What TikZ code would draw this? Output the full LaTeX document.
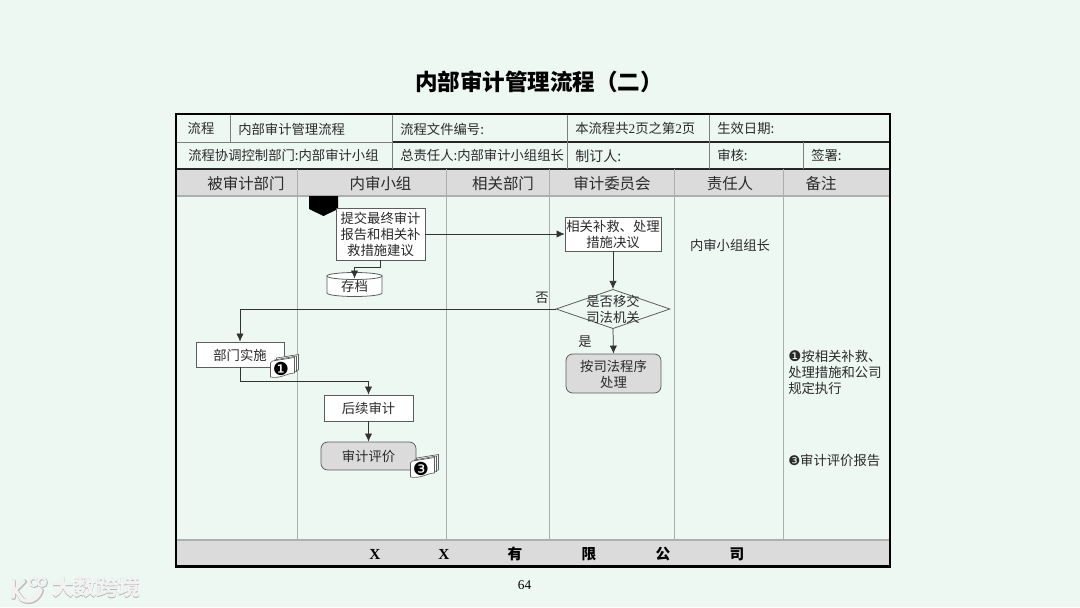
\documentclass[tikz,border=0pt]{standalone}
\usepackage{fontspec}
\setmainfont{Liberation Serif}
\newfontfamily\cjk{Noto Sans CJK SC}
\newfontfamily\dingb{DejaVu Sans}
\usetikzlibrary{shapes.geometric,arrows.meta,calc}
\definecolor{bgc}{HTML}{EDF8F3}
\definecolor{bandc}{HTML}{DBDBDB}
\definecolor{lanec}{HTML}{A9B0AD}
\definecolor{edgec}{HTML}{5A5F5D}
\definecolor{inkc}{HTML}{2A2A2A}
\tikzset{
  txt/.style={inner sep=0pt,text depth=0pt,text=inkc,align=center,font=\fontsize{10}{12}\selectfont\cjk},
  lefttxt/.style={txt,anchor=west,align=left},
  headtxt/.style={inner sep=0pt,text depth=0pt,text=inkc,font=\fontsize{11.6}{14}\selectfont\cjk},
  foottxt/.style={inner sep=0pt,text=black,font=\fontsize{11}{14}\selectfont\cjk\bfseries},
  footlat/.style={inner sep=0pt,text=black,font=\fontsize{11.5}{14}\selectfont\bfseries},
  procbox/.style={draw=edgec,line width=.6pt,fill=white,txt},
  endbox/.style={draw=edgec,line width=.6pt,fill=bandc,rounded corners=5pt,txt},
  decis/.style={draw=edgec,line width=.6pt,fill=bgc,diamond,aspect=2.9,inner sep=0pt,txt},
  conn/.style={draw=black!80,line width=.55pt,-{Latex[length=6pt,width=5.5pt]}},
  lane/.style={draw=lanec,line width=.7pt},
  cellline/.style={draw=edgec!80,line width=.6pt},
  darkline/.style={draw=black!85,line width=.8pt},
  page/.style={draw=edgec,line width=.5pt,fill=white}
}
\newcommand{\docstack}[3]{%
  \begin{scope}[shift={(#1,#2)}]
    \draw[page] (6,0) -- (28,-3.5) -- (28,12) -- (6,15) -- cycle;
    \draw[page] (4,2) -- (26,-2) -- (26,13.5) -- (4,16.5) -- cycle;
    \draw[page] (2,3) -- (24,-.5) -- (24,15) .. controls (17,15) and (10,21) .. (0,19) -- (0,5) -- cycle;
    \node[inner sep=0pt,text=black,font=\fontsize{13.5}{14}\selectfont\dingb] at (10.5,10.5) {#3};
  \end{scope}}
\begin{document}
\begin{tikzpicture}[x=.75pt,y=-.75pt]
\useasboundingbox (0,0) rectangle (1080,607);
\fill[bgc] (0,0) rectangle (1080,607);

% title
\node[inner sep=0pt,text=black,font=\fontsize{16.9}{20}\selectfont\cjk\bfseries] (title) at (539,81.5) {内部审计管理流程（二）};
\node[inner sep=0pt,text=black,font=\fontsize{10}{12}\selectfont] (pageno) at (524.5,585) {64};

% bands
\fill[bandc] (176,169) rectangle (890,196);
\fill[bandc] (176,540) rectangle (890,566);

% table rules
\draw[cellline] (176,142) -- (392,142);
\draw[darkline] (392,142) -- (890,142);
\draw[darkline] (176,169) -- (890,169);
\draw[lane,line width=1.1pt] (176,196) -- (890,196);
\draw[lane,line width=1.2pt] (176,540) -- (890,540);
\foreach \x in {230,709}{\draw[cellline] (\x,114) -- (\x,142);}
\draw[cellline] (709,142) -- (709,169);
\draw[cellline] (803,142) -- (803,169);
\draw[cellline] (392,114) -- (392,169);
\draw[cellline] (567,114) -- (567,169);
\foreach \x in {297,446,549,674,783}{\draw[lane] (\x,169) -- (\x,540);}
\draw[black,line width=2pt] (176,114) rectangle (890,566.5);

% table text
\node[txt] (c1) at (201,128) {流程};
\node[lefttxt] (c2) at (238,128.5) {内部审计管理流程};
\node[lefttxt] (c3) at (400,128.5) {流程文件编号:};
\node[lefttxt] (c4) at (575,127.5) {本流程共{\fontspec{Liberation Serif}2}页之第{\fontspec{Liberation Serif}2}页};
\node[lefttxt] (c5) at (717,128) {生效日期:};
\node[lefttxt] (c6) at (188,155) {流程协调控制部门:内部审计小组};
\node[lefttxt] (c7) at (400,155) {总责任人:内部审计小组组长};
\node[lefttxt,font=\fontsize{10.5}{12}\selectfont\cjk] (c8) at (575,156) {制订人:};
\node[lefttxt] (c9) at (717,155) {审核:};
\node[lefttxt] (c10) at (811,155) {签署:};

% lane heads
\node[headtxt] (h1) at (246,183) {被审计部门};
\node[headtxt] (h2) at (380.5,183) {内审小组};
\node[headtxt] (h3) at (503,183) {相关部门};
\node[headtxt] (h4) at (612,183) {审计委员会};
\node[headtxt] (h5) at (730,183) {责任人};
\node[headtxt] (h6) at (821,183) {备注};

% footer
\node[footlat] (f1) at (375,554) {X};
\node[footlat] (f2) at (444,554) {X};
\node[foottxt] (f3) at (515,554) {有};
\node[foottxt] (f4) at (589,554) {限};
\node[foottxt] (f5) at (663,554) {公};
\node[foottxt] (f6) at (737,554) {司};

% off-page marker
\fill[black] (309,196) -- (338,196) -- (338,209) -- (323.5,216) -- (309,209) -- cycle;

% flow nodes
\node[procbox,minimum width=66.75pt,minimum height=39pt] (submit) at (380.5,234) {提交最终审计\\报告和相关补\\救措施建议};
\node[procbox,minimum width=72pt,minimum height=25.5pt,inner xsep=0pt] (resolve) at (613,234) {相关补救、处理\\措施决议};
\node[decis,minimum width=85.5pt,minimum height=29.5pt] (legal) at (613,309) {};
\node[txt] (legalt) at (613,309) {是否移交\\司法机关};
\node[endbox,minimum width=71.25pt,minimum height=29.25pt] (judicial) at (613.5,373.5) {按司法程序\\处理};
\node[procbox,minimum width=66pt,minimum height=18.75pt] (dept) at (240,354.5) {部门实施};
\node[procbox,minimum width=66.75pt,minimum height=19.5pt] (follow) at (368.5,408) {后续审计};
\node[endbox,minimum width=71.25pt,minimum height=21pt] (evalu) at (368.5,456) {审计评价};

% archive: a plain named node with the can drawn round it
\draw[draw=edgec,line width=.6pt,fill=white]
  (327,276) -- (327,293) arc[start angle=180,end angle=0,x radius=27.5,y radius=3.5]
  -- (382,276) -- cycle;
\draw[draw=edgec,line width=.6pt,fill=white] (354.5,276) ellipse[x radius=27.5,y radius=3.5];
\node[txt] (archive) at (354.5,286) {存档};

% connectors
\coordinate (topL) at (240,309);
\coordinate (cantop) at (354.5,278.5);
\draw[conn] (submit.east) -- (resolve.west);
\draw[conn] (submit.south) -- ++(0,6.5) -| (cantop);
\draw[conn] (resolve.south) -- (legal.north);
\draw[conn] (legal.south) -- (judicial.north);
\draw[conn] (legal.west) -- (topL) -- (dept.north);
\draw[conn] (dept.south) -- ++(0,14) -| (follow.north);
\draw[conn] (follow.south) -- (evalu.north);

% doc stacks
\docstack{270.5}{358}{❶}
\docstack{410.5}{458}{❸}

% labels
\node[txt] (no) at (542,297) {否};
\node[txt] (yes) at (585,341) {是};
\node[txt] (owner) at (730,245) {内审小组组长};
\node[lefttxt] (n1) at (788,372) {{\fontsize{11}{12}\selectfont\dingb ❶}按相关补救、\\处理措施和公司\\规定执行};
\node[lefttxt] (n3) at (788,460) {{\dingb ❸}审计评价报告};

% watermark
\begin{scope}[line cap=round]
  \foreach \c/\w/\d in {black!25/3.6pt/.7,white!95!black/2.6pt/0}{
    \begin{scope}[shift={(\d,\d)}]
      \draw[\c,line width=\w] (13,581) -- (13,597);
      \draw[\c,line width=\w] (24,581) -- (15,590) -- (22,599);
      \draw[\c,line width=\w] (21,599) .. controls (30,604) and (38,599) .. (41,590);
      \draw[\c,line width=.55*\w] (33.5,582) circle (4);
      \draw[\c,line width=.55*\w] (42,582) circle (4);
    \end{scope}}
\end{scope}
\node[inner sep=0pt,text=black!30,font=\fontsize{16.5}{20}\selectfont\cjk\bfseries] (wm0) at (96.7,587.7) {大数跨境};
\node[inner sep=0pt,text=white!95!black,font=\fontsize{16.5}{20}\selectfont\cjk\bfseries] (wm) at (96,587) {大数跨境};
\end{tikzpicture}
\end{document}
